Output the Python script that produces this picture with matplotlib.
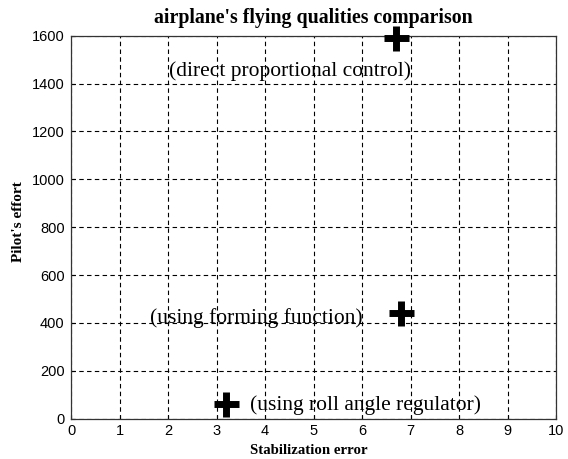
import matplotlib.pyplot as plt

# data
stab_error = [6.7, 6.8, 3.2]
pilot_effort = [1590, 440, 62]
labels = ["(direct proportional control)", "(using forming function)",
          "(using roll angle regulator)"]
label_x = [2.02, 1.63, 3.69]
label_y = [1450, 422, 58]

x_ticks = list(range(0, 11))
y_ticks = list(range(0, 1601, 200))

SERIF = "Liberation Serif"
TICK_FONT = "Liberation Sans"

fig = plt.figure(figsize=(5.68, 4.59), dpi=100)
ax = fig.add_axes([0.125, 0.0878, 0.9789 - 0.125, 0.9222 - 0.0878])

ax.plot(stab_error, pilot_effort, linestyle="none", marker="+", color="black",
        markersize=18, markeredgewidth=5, zorder=5, clip_on=False)

for tx, ty, t in zip(label_x, label_y, labels):
    ax.text(tx, ty, t, fontsize=15.5, family=SERIF, ha="left", va="center")

ax.set_xlim(0, 10)
ax.set_ylim(0, 1600)
ax.set_xticks(x_ticks)
ax.set_yticks(y_ticks)
ax.grid(True, color="black", linestyle=(0, (4, 3)), linewidth=0.8)
ax.tick_params(direction="in", length=3, width=0.8, labelsize=10.5)
ax.tick_params(axis="x", pad=4)
ax.tick_params(axis="y", pad=4.5)
for lab in ax.get_xticklabels() + ax.get_yticklabels():
    lab.set_family(TICK_FONT)
for s in ax.spines.values():
    s.set_linewidth(0.9)
    s.set_color("#333333")

ax.set_title("airplane's flying qualities comparison", family=SERIF,
             fontweight="bold", fontsize=14.3, pad=9)
ax.set_xlabel("Stabilization error", family=SERIF, fontweight="bold",
              fontsize=10.7, va="center")
ax.set_ylabel("Pilot's effort", family=SERIF, fontweight="bold",
              fontsize=11, va="center")
ax.xaxis.set_label_coords(0.49, -0.082)
ax.yaxis.set_label_coords(-0.109, 0.516)

fig.savefig("out.png", dpi=100)
